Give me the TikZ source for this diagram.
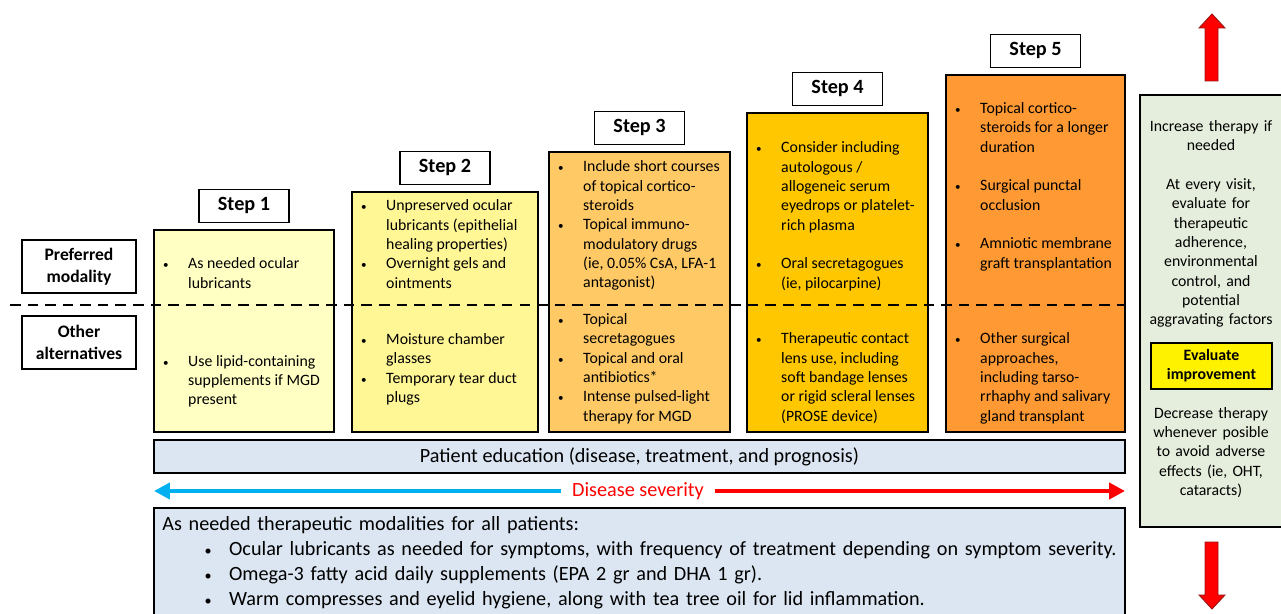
\documentclass[tikz,border=0pt]{standalone}
\usepackage{fontspec}
\setmainfont{Carlito}
\usetikzlibrary{arrows.meta,positioning}

\definecolor{stepA}{RGB}{255,255,196}
\definecolor{stepB}{RGB}{255,246,150}
\definecolor{stepC}{RGB}{255,201,102}
\definecolor{stepD}{RGB}{255,199,0}
\definecolor{stepE}{RGB}{255,153,51}
\definecolor{edublue}{RGB}{220,230,242}
\definecolor{panelgreen}{RGB}{229,238,220}
\definecolor{sevblue}{RGB}{0,176,240}
\definecolor{sevred}{RGB}{255,0,0}
\definecolor{darkred}{RGB}{150,20,20}

\newcommand{\dotmark}{\hspace{1pt}\scalebox{0.7}{\textbullet}}
\newenvironment{blist}{\begin{tabular}{@{}p{15.3pt}@{}l@{}}}{\end{tabular}}
\newcommand{\litem}[1]{\par\noindent\hspace*{23pt}\makebox[15pt][l]{\dotmark}#1}

\begin{document}
\begin{tikzpicture}[
    x=0.02cm, y=-0.02cm,
    stepbox/.style={draw, line width=0.9pt, rectangle, minimum width=3.6cm, inner sep=0pt},
    steplabel/.style={draw, line width=0.9pt, fill=white, minimum width=1.8cm, minimum height=0.66cm, font=\fontsize{11.5}{13}\selectfont\bfseries},
    itemtxt/.style={anchor=west, inner sep=0pt, yshift=-0.05cm, font=\fontsize{9}{11}\selectfont},
    rowlabel/.style={draw, line width=0.9pt, minimum width=2.28cm, minimum height=1.06cm, align=center, font=\fontsize{10}{12.5}\selectfont\bfseries},
    widebox/.style={draw, line width=0.9pt, fill=edublue, minimum width=19.42cm, inner sep=0pt},
    sevarrow/.style={-{Triangle[length=9pt, width=9pt]}, line width=2.3pt},
    bigarrow/.style={fill=sevred, draw=darkred, line width=0.5pt},
    sidetxt/.style={align=center, text width=2.7cm, inner sep=0pt, font=\fontsize{9}{11}\selectfont},
]
    \clip (0,0) rectangle (1281,614);

    % steps
    \node [stepbox, fill=stepA, minimum height=4.04cm] (box1) at (244,331) {};
    \node [stepbox, fill=stepB, minimum width=3.72cm, minimum height=4.8cm] (box2) at (445,312) {};
    \node [stepbox, fill=stepC, minimum width=3.62cm, minimum height=5.6cm] (box3) at (639.5,292) {};
    \node [stepbox, fill=stepD, minimum width=3.62cm, minimum height=6.38cm] (box4) at (837.5,272.5) {};
    \node [stepbox, fill=stepE, minimum width=3.58cm, minimum height=7.14cm] (box5) at (1035.5,253.5) {};

    \node [steplabel, above=0.12cm of box1] (step1) {Step 1};
    \node [steplabel, above=0.12cm of box2] (step2) {Step 2};
    \node [steplabel, above=0.12cm of box3] (step3) {Step 3};
    \node [steplabel, above=0.12cm of box4] (step4) {Step 4};
    \node [steplabel, above=0.12cm of box5] (step5) {Step 5};

    \draw [line width=0.8pt, dash pattern=on 6pt off 4pt] (10,305) -- (1125,305);

    \node [rowlabel] (pref) at (79,266.5) {Preferred\\modality};
    \node [rowlabel] (other) at (79,342.5) {Other\\alternatives};

    \node [itemtxt] (pref1) at (161,272) {\begin{blist}
        \dotmark & As needed ocular\\ & lubricants
    \end{blist}};
    \node [itemtxt] (alt1) at (161,379) {\begin{blist}
        \dotmark & Use lipid-containing\\ & supplements if MGD\\ & present
    \end{blist}};

    \node [itemtxt] (pref2) at (359,243) {\begin{blist}
        \dotmark & Unpreserved ocular\\ & lubricants (epithelial\\ & healing properties)\\
        \dotmark & Overnight gels and\\ & ointments
    \end{blist}};
    \node [itemtxt] (alt2) at (359,367) {\begin{blist}
        \dotmark & Moisture chamber\\ & glasses\\
        \dotmark & Temporary tear duct\\ & plugs
    \end{blist}};

    \node [itemtxt] (pref3) at (556,223.5) {\begin{blist}
        \dotmark & Include short courses\\ & of topical cortico-\\ & steroids\\
        \dotmark & Topical immuno-\\ & modulatory drugs\\ & (ie, 0.05\% CsA, LFA-1\\ & antagonist)
    \end{blist}};
    \node [itemtxt] (alt3) at (556,366.5) {\begin{blist}
        \dotmark & Topical\\ & secretagogues\\
        \dotmark & Topical and oral\\ & antibiotics*\\
        \dotmark & Intense pulsed-light\\ & therapy for MGD
    \end{blist}};

    \node [itemtxt] (pref4) at (754,214) {\begin{blist}
        \dotmark & Consider including\\ & autologous /\\ & allogeneic serum\\ & eyedrops or platelet-\\ & rich plasma\\ & \\
        \dotmark & Oral secretagogues\\ & (ie, pilocarpine)
    \end{blist}};
    \node [itemtxt] (alt4) at (754,376) {\begin{blist}
        \dotmark & Therapeutic contact\\ & lens use, including\\ & soft bandage lenses\\ & or rigid scleral lenses\\ & (PROSE device)
    \end{blist}};

    \node [itemtxt] (pref5) at (953,184.5) {\begin{blist}
        \dotmark & Topical cortico-\\ & steroids for a longer\\ & duration\\ & \\
        \dotmark & Surgical punctal\\ & occlusion\\ & \\
        \dotmark & Amniotic membrane\\ & graft transplantation
    \end{blist}};
    \node [itemtxt] (alt5) at (953,376) {\begin{blist}
        \dotmark & Other surgical\\ & approaches,\\ & including tarso-\\ & rrhaphy and salivary\\ & gland transplant
    \end{blist}};

    % education and severity
    \node [widebox, minimum height=0.66cm, font=\fontsize{11.5}{14}\selectfont] (edu) at (639.5,456.5) {Patient education (disease, treatment, and prognosis)};

    \node [text=sevred, inner xsep=6pt, font=\fontsize{11.5}{14}\selectfont] (sev) at (638,491) {Disease severity};
    \coordinate (sevL) at (154,491);
    \coordinate (sevR) at (1125,491);
    \draw [sevarrow, sevblue] (sev) -- (sevL);
    \draw [sevarrow, sevred] (sev) -- (sevR);

    \node [widebox, minimum height=2.3cm] (all) at (639.5,565.5) {};
    \node [anchor=north west, inner sep=0pt, text width=20.5cm, font=\fontsize{11.5}{14.2}\selectfont] (alltxt) at (162,516) {As needed therapeutic modalities for all patients:\litem{Ocular lubricants as needed for symptoms, with frequency of treatment depending on symptom severity.}\litem{Omega-3 fatty acid daily supplements (EPA 2 gr and DHA 1 gr).}\litem{Warm compresses and eyelid hygiene, along with tea tree oil for lid inflammation.}};

    % follow-up panel
    \node [draw, line width=0.9pt, fill=panelgreen, minimum width=2.84cm, minimum height=8.64cm] (panel) at (1211,311) {};
    \node [sidetxt] (inc) at (1211,224) {Increase therapy if\\needed\\[11pt]At every visit,\\evaluate for\\therapeutic\\adherence,\\environmental\\control, and\\potential\\aggravating factors};
    \node [draw, line width=0.9pt, fill=yellow, minimum width=2.42cm, minimum height=0.92cm, align=center, font=\fontsize{9}{11}\selectfont\bfseries] (eval) at (1211.5,366) {Evaluate\\improvement};
    \node [sidetxt] (dec) at (1211,452.5) {Decrease therapy\\whenever posible\\to avoid adverse\\effects (ie, OHT,\\cataracts)};

    \draw [bigarrow] (1205,81) -- (1205,28) -- (1199,28) -- (1212,14) -- (1225,28) -- (1218,28) -- (1218,81) -- cycle;
    \draw [bigarrow] (1205,542) -- (1205,595) -- (1199,595) -- (1212,609) -- (1225,595) -- (1218,595) -- (1218,542) -- cycle;

\end{tikzpicture}
\end{document}
